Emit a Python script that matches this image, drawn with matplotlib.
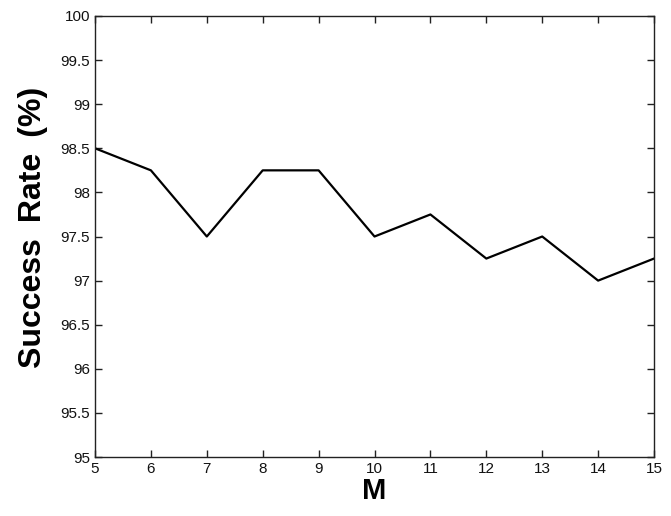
import matplotlib
matplotlib.use("Agg")
import matplotlib.pyplot as plt

m_values = [5, 6, 7, 8, 9, 10, 11, 12, 13, 14, 15]
success_rate = [98.5, 98.25, 97.5, 98.25, 98.25, 97.5, 97.75, 97.25, 97.5, 97.0, 97.25]
y_ticks = [95, 95.5, 96, 96.5, 97, 97.5, 98, 98.5, 99, 99.5, 100]

plt.rcParams['font.family'] = ['Liberation Sans', 'DejaVu Sans']

fig = plt.figure(figsize=(6.71, 5.16), dpi=100)
ax = fig.add_axes([0.1416, 0.1143, 0.8331, 0.8547])

ax.plot(m_values, success_rate, color='black', linewidth=1.6)

ax.set_xlim(5, 15)
ax.set_ylim(95, 100)
ax.set_xticks(m_values)
ax.set_yticks(y_ticks)
ax.set_yticklabels([f'{v:g}' for v in y_ticks])
ax.tick_params(direction='in', top=True, right=True, labelsize=11, length=5, width=1,
               colors='#222222', labelcolor='#111111')
for s in ax.spines.values():
    s.set_linewidth(1)
    s.set_color('#222222')

ax.set_xlabel('M', fontsize=21, fontweight='bold', labelpad=1)
# en spaces: the matlab label is a bit wider than plain spacing gives
ax.set_ylabel('Success\u2002Rate\u2002(%)', fontsize=23, fontweight='bold')
ax.yaxis.set_label_coords(-0.084, 0.52)

fig.savefig('out.png', dpi=100, facecolor='white')
